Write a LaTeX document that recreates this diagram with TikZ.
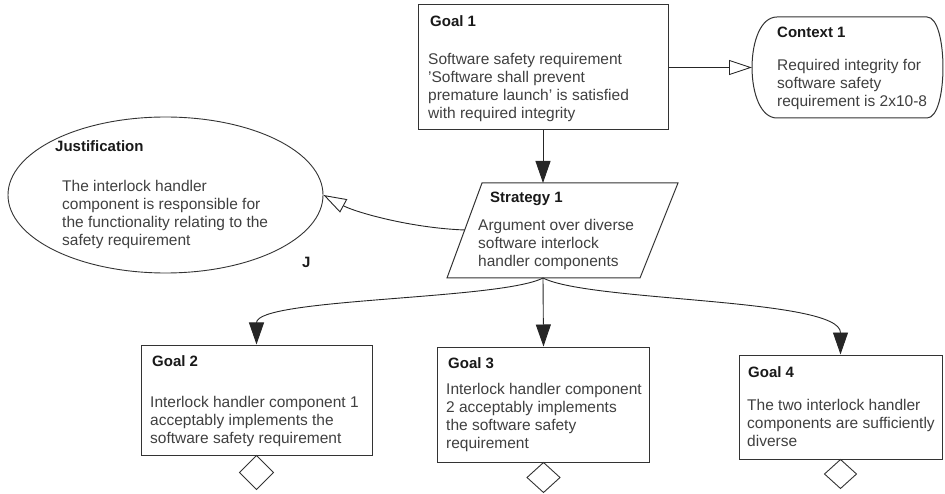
\documentclass[tikz,border=0pt]{standalone}
\usepackage{fontspec}
\setmainfont{Liberation Sans}
\usetikzlibrary{shapes.geometric,arrows.meta}
\begin{document}
\begin{tikzpicture}[x=1pt,y=-1pt,
  line/.style={draw=black!85,line width=0.9pt},
  goalbox/.style={rectangle,draw=black!80,line width=1pt,inner sep=0pt,fill=white},
  head/.style={anchor=base west,inner sep=0pt,font=\fontsize{15}{18}\selectfont\bfseries,text=black!90},
  body/.style={anchor=north west,inner sep=0pt,align=left,font=\fontsize{15.5}{18}\selectfont,text=black!75},
  solidtip/.style={-{Triangle[length=22pt,width=15pt]}},
  opentip/.style={-{Triangle[open,length=23pt,width=15pt]}},
  undev/.style={draw=black!80,line width=0.9pt,fill=white}
]
\useasboundingbox (0,0) rectangle (945,494);

% Goal 1
\node[goalbox,minimum width=250pt,minimum height=125pt] (g1) at (543,67.5) {};
\node[head] (g1h) at (430,27) {Goal 1};
\node[body] (g1b) at (428,51.4) {\strut Software safety requirement\\'Software shall prevent\\premature launch' is satisfied\\with required integrity};

% Context 1
\path[draw=black!80,line width=1pt,fill=white]
  (777,17) -- (927,17) .. controls (948.3,17) and (948.3,118) .. (927,118)
  -- (777,118) .. controls (743.7,118) and (743.7,17) .. (777,17) -- cycle;
\coordinate (ctx) at (752,67.5);
\node[head] (c1h) at (777,38) {Context 1};
\node[body] (c1b) at (777,57.4) {\strut Required integrity for\\software safety\\requirement is 2x10-8};

% Justification
\node[ellipse,draw=black!80,line width=0.9pt,minimum width=315pt,minimum height=156pt,inner sep=0pt] (j) at (165.5,195) {};
\node[head] (jh) at (55,152) {Justification};
\node[body] (jb) at (62,178.4) {\strut The interlock handler\\component is responsible for\\the functionality relating to the\\safety requirement};
\node[head] (jl) at (302,268) {J};

% Strategy 1
\path[draw=black!80,line width=1pt,fill=white] (482,183) -- (678,183) -- (640,278) -- (447,278) -- cycle;
\coordinate (stop) at (543,183);
\coordinate (sbot) at (543,278);
\coordinate (sleft) at (465,230);
\node[head] (sh) at (490,203) {Strategy 1};
\node[body] (sb) at (478,217.4) {\strut Argument over diverse\\software interlock\\handler components};

% Goal 2
\node[goalbox,minimum width=231pt,minimum height=110pt] (g2) at (256.5,400) {};
\node[head] (g2h) at (152,366) {Goal 2};
\node[body] (g2b) at (150,394.4) {\strut Interlock handler component 1\\acceptably implements the\\software safety requirement};

% Goal 3
\node[goalbox,minimum width=212pt,minimum height=115pt] (g3) at (543.5,404.5) {};
\node[head] (g3h) at (448,368) {Goal 3};
\node[body] (g3b) at (446,381.4) {\strut Interlock handler component\\2 acceptably implements\\the software safety\\requirement};

% Goal 4
\node[goalbox,minimum width=203pt,minimum height=104pt] (g4) at (840.5,407) {};
\node[head] (g4h) at (748,377) {Goal 4};
\node[body] (g4b) at (747,397.4) {\strut The two interlock handler\\components are sufficiently\\diverse};

% undeveloped diamonds
\path[undev] (g2.south) -- ++(17,17) -- ++(-17,17) -- ++(-17,-17) -- cycle;
\path[undev] (g3.south) -- ++(16.5,15) -- ++(-16.5,15) -- ++(-16.5,-15) -- cycle;
\path[undev] (g4.south) -- ++(16,14.5) -- ++(-16,14.5) -- ++(-16,-14.5) -- cycle;

% connectors
\draw[line,solidtip] (g1.south) -- (stop);
\draw[line,opentip] (g1.east) -- (ctx);
\draw[line,opentip] (sleft) .. controls (410,228) and (355,212) .. (j.east);
\draw[line,solidtip] (sbot) .. controls (500,300) and (256.5,298) .. (g2.north);
\draw[line,solidtip] (sbot) -- (g3.north);
\draw[line,solidtip] (sbot) .. controls (590,302) and (840.5,298) .. (g4.north);
\end{tikzpicture}
\end{document}
